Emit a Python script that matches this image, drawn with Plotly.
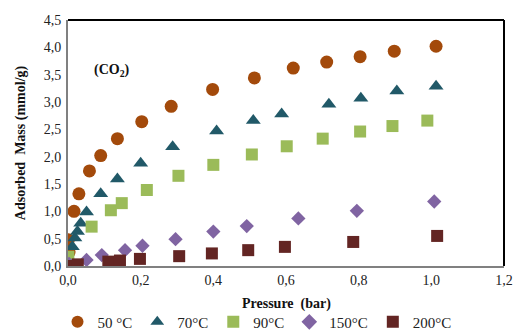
import plotly.graph_objects as go

p50 = [0.001, 0.003, 0.0165, 0.030, 0.059, 0.090, 0.136, 0.203, 0.284, 0.398, 0.513, 0.620, 0.712, 0.804, 0.898, 1.013]
q50 = [0.48, 0.26, 1.00, 1.32, 1.74, 2.02, 2.33, 2.64, 2.92, 3.23, 3.44, 3.62, 3.73, 3.83, 3.93, 4.02]

p70 = [0.012, 0.019, 0.026, 0.035, 0.051, 0.090, 0.136, 0.200, 0.288, 0.409, 0.510, 0.588, 0.718, 0.806, 0.905, 1.013]
q70 = [0.35, 0.51, 0.63, 0.78, 0.99, 1.32, 1.59, 1.88, 2.18, 2.47, 2.66, 2.78, 2.96, 3.07, 3.20, 3.29]

p90 = [0.001, 0.065, 0.118, 0.148, 0.217, 0.304, 0.400, 0.506, 0.602, 0.701, 0.804, 0.893, 0.989]
q90 = [0.17, 0.72, 1.02, 1.15, 1.39, 1.65, 1.85, 2.04, 2.19, 2.33, 2.46, 2.56, 2.66]

p150 = [0.003, 0.051, 0.093, 0.157, 0.205, 0.296, 0.400, 0.492, 0.634, 0.795, 1.008]
q150 = [0.04, 0.11, 0.20, 0.29, 0.37, 0.49, 0.63, 0.73, 0.87, 1.01, 1.18]

p200 = [0.0, 0.027, 0.111, 0.143, 0.198, 0.306, 0.396, 0.496, 0.597, 0.785, 1.016]
q200 = [0.0, 0.03, 0.08, 0.10, 0.13, 0.18, 0.23, 0.29, 0.35, 0.44, 0.55]

series = [
    ("50 °C", p50, q50, "circle", "#A34A0B", 13),
    ("70°C", p70, q70, "triangle-up", "#215968", 13),
    ("90°C", p90, q90, "square", "#9BBB59", 12),
    ("150°C", p150, q150, "diamond", "#8064A2", 11),
    ("200°C", p200, q200, "square", "#632523", 12),
]

font = "Liberation Serif, Times New Roman, serif"
fig = go.Figure()
for name, x, y, sym, col, sz in series:
    fig.add_trace(go.Scatter(x=x, y=y, mode="markers", name=name,
                             marker=dict(symbol=sym, color=col, size=sz, line=dict(width=0))))

fig.update_layout(
    width=514, height=332,
    margin=dict(l=68, r=10, t=20, b=66, autoexpand=False),
    paper_bgcolor="white", plot_bgcolor="white",
    separators=",.",
    font=dict(family=font, size=14, color="#222"),
    showlegend=True,
    legend=dict(orientation="h", x=0.5, xanchor="center", xref="container",
                y=-0.228, yanchor="middle", yref="paper",
                font=dict(family=font, size=15, color="#222"),
                itemwidth=30, tracegroupgap=0, itemsizing="constant"),
    xaxis=dict(range=[0, 1.2], dtick=0.2, tickformat=".1f", showgrid=False, zeroline=False,
               showline=True, linecolor="#808080", linewidth=2, ticks="", automargin=False,
               tickfont=dict(family=font, size=14, color="#222")),
    yaxis=dict(range=[0, 4.5], dtick=0.5, tickformat=".1f", showgrid=False, zeroline=False,
               showline=True, linecolor="#808080", linewidth=2, ticks="", ticklabelstandoff=2,
               automargin=False,
               tickfont=dict(family=font, size=14, color="#222"),
               title=dict(text="<b>Adsorbed  Mass (mmol/g)</b>", font=dict(family=font, size=14, color="#111"))),
    annotations=[
        dict(x=0.12, y=3.58, xref="x", yref="y", text="<b>(CO<sub>2</sub>)</b>",
             showarrow=False, font=dict(family=font, size=14, color="#111")),
        dict(x=0.5, y=0, xref="paper", yref="paper", yshift=-38, yanchor="middle",
             text="<b>Pressure  (bar)</b>", showarrow=False,
             font=dict(family=font, size=14, color="#111")),
    ],
    shapes=[
        dict(type="line", xref="paper", yref="paper", x0=0, x1=1, y0=1, y1=1, line=dict(color="black", width=2)),
        dict(type="line", xref="paper", yref="paper", x0=1, x1=1, y0=0, y1=1, line=dict(color="black", width=2)),
    ],
)
fig.write_html("out.html")
